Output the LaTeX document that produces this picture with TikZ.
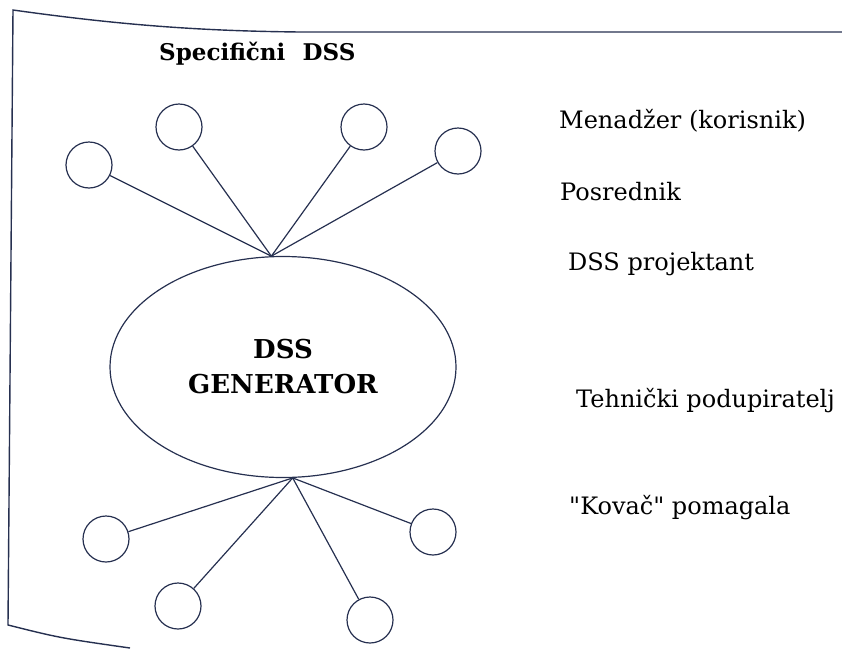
\documentclass[tikz,border=0pt]{standalone}
\usepackage{fontspec}
\setmainfont{DejaVu Serif}
\newfontfamily\rolefont{DejaVu Serif}
\usetikzlibrary{shapes.geometric}
\definecolor{ink}{RGB}{38,48,80}
\begin{document}
\begin{tikzpicture}[x=1pt,y=-1pt,
  ring/.style={draw=ink, circle, minimum size=46pt, inner sep=0pt, line width=1.2pt},
  link/.style={draw=ink, line width=1.2pt},
  role/.style={anchor=base west, inner sep=0pt, font=\rolefont\fontsize{24}{28}\selectfont}]
\useasboundingbox (0,0) rectangle (842,648);

% page edge
\draw[ink, line width=1.4pt] (842,32) -- (300,32) .. controls (200,31) and (120,25) .. (13,10)
  -- (8,625) .. controls (60,638) .. (130,648);

\node[anchor=base west, inner sep=0pt, font=\bfseries\fontsize{23}{28}\selectfont] (title) at (159,60) {Specifični\hspace{0.75em}DSS};

\node[draw=ink, ellipse, minimum width=346pt, minimum height=221pt, inner sep=0pt, line width=1.2pt,
  align=center, font=\bfseries\fontsize{26}{35}\selectfont] (gen) at (283,367) {DSS\\GENERATOR};
\coordinate (top) at (gen.96);
\coordinate (bot) at (gen.-85);

\node[ring] (t1) at (89,165) {};
\node[ring] (t2) at (179,127) {};
\node[ring] (t3) at (364,127) {};
\node[ring] (t4) at (458,151) {};
\node[ring] (b1) at (106,539) {};
\node[ring] (b2) at (178,606) {};
\node[ring] (b3) at (370,620) {};
\node[ring] (b4) at (433,532) {};

\path[link] (t1) -- (top);
\path[link] (t2) -- (top);
\path[link] (t3) -- (top);
\path[link] (t4) -- (top);
\path[link] (b1) -- (bot);
\path[link] (b2) -- (bot);
\path[link] (b3) -- (bot);
\path[link] (b4) -- (bot);

\node[role] (r1) at (559,128) {Menadžer (korisnik)};
\node[role] (r2) at (560,200) {Posrednik};
\node[role] (r3) at (568,270) {DSS projektant};
\node[role] (r4) at (576,407) {Tehnički podupiratelj};
\node[role] (r5) at (569,514) {"Kovač" pomagala};
\end{tikzpicture}
\end{document}
